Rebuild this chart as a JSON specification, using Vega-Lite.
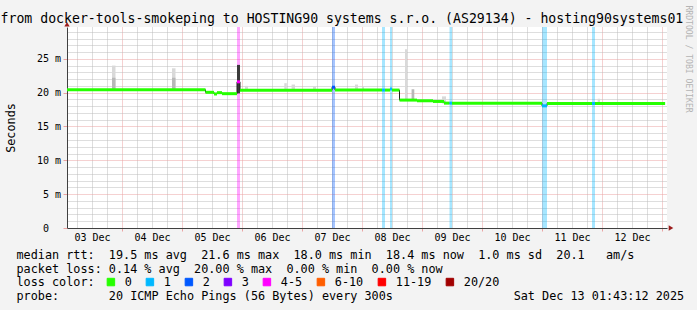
{
  "$schema": "https://vega.github.io/schema/vega-lite/v6.json",
  "width": 600,
  "height": 201,
  "autosize": {"type": "none"},
  "padding": {"left": 67, "top": 27, "right": 30, "bottom": 82},
  "background": "#f3f3f3",
  "config": {"view": {"stroke": null, "fill": "#ffffff"}, "font": "DejaVu Sans Mono"},
  "title": {
    "text": "from docker-tools-smokeping to HOSTING90 systems s.r.o. (AS29134) - hosting90systems01",
    "anchor": "start", "frame": "group", "dx": -66.5, "offset": -31,
    "baseline": "alphabetic", "font": "DejaVu Sans Mono", "fontSize": 13.2,
    "fontWeight": "normal", "color": "#000000"
  },
  "datasets": {
    "segs": [
      {"t0": "2025-12-03T02:00:00Z", "t1": "2025-12-05T09:24:00Z", "rtt": 20.43, "loss": "0"},
      {"t0": "2025-12-05T09:24:00Z", "t1": "2025-12-05T12:48:00Z", "rtt": 20.05, "loss": "0"},
      {"t0": "2025-12-05T12:48:00Z", "t1": "2025-12-05T14:00:00Z", "rtt": 19.8, "loss": "0"},
      {"t0": "2025-12-05T14:00:00Z", "t1": "2025-12-05T16:00:00Z", "rtt": 20.0, "loss": "0"},
      {"t0": "2025-12-05T16:00:00Z", "t1": "2025-12-05T22:00:00Z", "rtt": 19.85, "loss": "0"},
      {"t0": "2025-12-05T22:00:00Z", "t1": "2025-12-05T23:12:00Z", "rtt": 21.6, "loss": "4-5"},
      {"t0": "2025-12-05T23:12:00Z", "t1": "2025-12-07T12:00:00Z", "rtt": 20.35, "loss": "0"},
      {"t0": "2025-12-07T12:00:00Z", "t1": "2025-12-07T13:12:00Z", "rtt": 20.8, "loss": "2"},
      {"t0": "2025-12-07T13:12:00Z", "t1": "2025-12-08T08:00:00Z", "rtt": 20.38, "loss": "0"},
      {"t0": "2025-12-08T08:00:00Z", "t1": "2025-12-08T09:12:00Z", "rtt": 20.38, "loss": "1"},
      {"t0": "2025-12-08T09:12:00Z", "t1": "2025-12-08T11:12:00Z", "rtt": 20.38, "loss": "0"},
      {"t0": "2025-12-08T11:12:00Z", "t1": "2025-12-08T12:00:00Z", "rtt": 20.55, "loss": "1"},
      {"t0": "2025-12-08T12:00:00Z", "t1": "2025-12-08T15:00:00Z", "rtt": 20.38, "loss": "0"},
      {"t0": "2025-12-08T15:00:00Z", "t1": "2025-12-08T22:00:00Z", "rtt": 18.9, "loss": "0"},
      {"t0": "2025-12-08T22:00:00Z", "t1": "2025-12-09T04:24:00Z", "rtt": 18.8, "loss": "0"},
      {"t0": "2025-12-09T04:24:00Z", "t1": "2025-12-09T08:48:00Z", "rtt": 18.7, "loss": "0"},
      {"t0": "2025-12-09T08:48:00Z", "t1": "2025-12-09T11:00:00Z", "rtt": 18.45, "loss": "0"},
      {"t0": "2025-12-09T11:00:00Z", "t1": "2025-12-09T12:00:00Z", "rtt": 18.45, "loss": "1"},
      {"t0": "2025-12-09T12:00:00Z", "t1": "2025-12-11T00:00:00Z", "rtt": 18.42, "loss": "0"},
      {"t0": "2025-12-11T00:00:00Z", "t1": "2025-12-11T02:00:00Z", "rtt": 18.05, "loss": "1"},
      {"t0": "2025-12-11T02:00:00Z", "t1": "2025-12-11T20:00:00Z", "rtt": 18.4, "loss": "0"},
      {"t0": "2025-12-11T20:00:00Z", "t1": "2025-12-11T21:12:00Z", "rtt": 18.4, "loss": "1"},
      {"t0": "2025-12-11T21:12:00Z", "t1": "2025-12-13T01:15:00Z", "rtt": 18.4, "loss": "0"}
    ],
    "smoke": [
      {"t0": "2025-12-03T20:00:00Z", "t1": "2025-12-03T21:24:00Z", "lo": 20.4, "hi": 24.0, "density": "sparse"},
      {"t0": "2025-12-03T20:00:00Z", "t1": "2025-12-03T21:24:00Z", "lo": 20.4, "hi": 22.2, "density": "medium"},
      {"t0": "2025-12-04T20:00:00Z", "t1": "2025-12-04T21:24:00Z", "lo": 20.4, "hi": 23.6, "density": "sparse"},
      {"t0": "2025-12-04T20:00:00Z", "t1": "2025-12-04T21:24:00Z", "lo": 20.4, "hi": 22.2, "density": "medium"},
      {"t0": "2025-12-05T22:00:00Z", "t1": "2025-12-05T23:12:00Z", "lo": 19.9, "hi": 24.1, "density": "dense"},
      {"t0": "2025-12-06T01:12:00Z", "t1": "2025-12-06T02:24:00Z", "lo": 20.3, "hi": 21.0, "density": "sparse"},
      {"t0": "2025-12-06T16:55:00Z", "t1": "2025-12-06T17:55:00Z", "lo": 20.3, "hi": 21.4, "density": "sparse"},
      {"t0": "2025-12-06T19:50:00Z", "t1": "2025-12-06T21:12:00Z", "lo": 20.3, "hi": 21.2, "density": "sparse"},
      {"t0": "2025-12-07T04:24:00Z", "t1": "2025-12-07T05:36:00Z", "lo": 20.3, "hi": 20.9, "density": "sparse"},
      {"t0": "2025-12-07T21:12:00Z", "t1": "2025-12-07T22:24:00Z", "lo": 20.3, "hi": 21.2, "density": "sparse"},
      {"t0": "2025-12-08T00:00:00Z", "t1": "2025-12-08T00:48:00Z", "lo": 20.3, "hi": 20.9, "density": "sparse"},
      {"t0": "2025-12-08T17:12:00Z", "t1": "2025-12-08T18:00:00Z", "lo": 18.9, "hi": 26.4, "density": "sparse"},
      {"t0": "2025-12-08T19:50:00Z", "t1": "2025-12-08T20:55:00Z", "lo": 18.9, "hi": 20.5, "density": "medium"},
      {"t0": "2025-12-09T08:00:00Z", "t1": "2025-12-09T09:36:00Z", "lo": 18.4, "hi": 19.45, "density": "sparse"},
      {"t0": "2025-12-11T22:17:00Z", "t1": "2025-12-11T23:12:00Z", "lo": 18.4, "hi": 19.1, "density": "sparse"}
    ]
  },
  "resolve": {"axis": {"y": "independent", "x": "independent"}},
  "layer": [
    {
      "data": {"name": "segs"},
      "transform": [{"filter": "datum.loss != '0'"}],
      "mark": {"type": "rect", "opacity": 0.35},
      "encoding": {
        "x": {
          "field": "t0", "type": "temporal",
          "scale": {"type": "utc", "nice": false, "domain": [{"year": 2025, "month": 12, "date": 3, "hours": 2, "utc": true}, {"year": 2025, "month": 12, "date": 13, "hours": 2, "utc": true}]},
          "axis": {
            "orient": "bottom",
            "tickCount": 40,
            "grid": true,
            "gridColor": {"condition": {"test": "utchours(datum.value) == 0", "value": "#eba3a3"}, "value": "#bcbcbc"},
            "gridDash": [1, 1],
            "domain": true, "domainColor": "#404040",
            "ticks": true, "tickSize": 3,
            "tickColor": {"condition": {"test": "utchours(datum.value) == 0", "value": "#eba3a3"}, "value": "transparent"},
            "labelExpr": "utchours(datum.value) == 12 ? utcFormat(datum.value, '%d %b') : ''",
            "labelFont": "DejaVu Sans Mono", "labelFontSize": 10, "labelColor": "#000000",
            "labelBaseline": "alphabetic", "labelPadding": 9,
            "labelOverlap": false, "labelFlush": false, "labelBound": false,
            "title": [
              "median rtt:\u00a0\u00a019.5 ms avg\u00a0\u00a021.6 ms max\u00a0\u00a018.0 ms min\u00a0\u00a018.4 ms now\u00a0\u00a01.0 ms sd\u00a0\u00a020.1\u00a0\u00a0\u00a0am/s",
              "packet loss: 0.14 % avg\u00a0\u00a020.00 % max\u00a0\u00a00.00 % min\u00a0\u00a00.00 % now"
            ],
            "titleFont": "DejaVu Sans Mono", "titleFontSize": 11.8, "titleFontWeight": "normal",
            "titleColor": "#000000", "titleAlign": "left", "titleBaseline": "alphabetic",
            "titleAngle": 0, "titleX": -51, "titleY": 30, "titleLineHeight": 14
          }
        },
        "x2": {"field": "t1"},
        "y": {
          "datum": 0, "type": "quantitative",
          "scale": {"domain": [0, 29.7], "nice": false, "zero": false},
          "axis": {
            "values": [0, 1, 2, 3, 4, 5, 6, 7, 8, 9, 10, 11, 12, 13, 14, 15, 16, 17, 18, 19, 20, 21, 22, 23, 24, 25, 26, 27, 28, 29],
            "grid": true,
            "gridColor": {"condition": {"test": "datum.value % 5 == 0", "value": "#eba3a3"}, "value": "#bcbcbc"},
            "gridDash": [1, 1],
            "domain": true, "domainColor": "#404040",
            "ticks": true, "tickSize": 4,
            "tickColor": {"condition": {"test": "datum.value % 5 == 0", "value": "#eba3a3"}, "value": "transparent"},
            "labelExpr": "datum.value % 5 == 0 ? (datum.value == 0 ? '0' : datum.value + ' m') : ''",
            "labelFont": "DejaVu Sans Mono", "labelFontSize": 10, "labelColor": "#000000",
            "labelPadding": {"condition": {"test": "datum.value == 0", "value": 14.5}, "value": 2.5},
            "labelOverlap": false, "labelBound": false, "labelFlush": false,
            "title": "Seconds", "titleFont": "DejaVu Sans Mono", "titleFontSize": 11.8,
            "titleFontWeight": "normal", "titleColor": "#000000", "titleAngle": -90,
            "titleAlign": "center", "titleBaseline": "alphabetic", "titleX": -53, "titleY": 100.5
          }
        },
        "y2": {"datum": 29.7},
        "color": {
          "field": "loss", "type": "nominal",
          "scale": {"domain": ["0", "1", "2", "3", "4-5", "6-10", "11-19", "20/20"], "range": ["#26ff00", "#00b8ff", "#0059ff", "#7e00ff", "#ff00ff", "#ff5e00", "#ff0000", "#a10000"]},
          "legend": {
            "orient": "none", "legendX": 38, "legendY": 249, "direction": "horizontal",
            "title": null,
            "labelFont": "DejaVu Sans Mono", "labelFontSize": 11.8, "labelColor": "#000000", "labelOffset": 8,
            "symbolType": "square", "symbolSize": 56, "symbolStrokeColor": "#000000", "symbolStrokeWidth": 1,
            "symbolOpacity": 1,
            "columnPadding": 12, "padding": 0, "offset": 0,
            "encode": {
              "symbols": {
                "update": {
                  "fill": {"scale": "color", "field": "value"},
                  "stroke": {"value": "#000000"},
                  "strokeWidth": {"value": 1},
                  "opacity": {"value": 1},
                  "fillOpacity": {"value": 1}
                }
              }
            }
          }
        }
      }
    },
    {
      "data": {"name": "smoke"},
      "mark": {"type": "rect"},
      "encoding": {
        "x": {"field": "t0", "type": "temporal", "scale": {"type": "utc", "nice": false, "domain": [{"year": 2025, "month": 12, "date": 3, "hours": 2, "utc": true}, {"year": 2025, "month": 12, "date": 13, "hours": 2, "utc": true}]}, "axis": null},
        "x2": {"field": "t1"},
        "y": {"field": "lo", "type": "quantitative", "scale": {"domain": [0, 29.7], "nice": false, "zero": false}, "axis": null},
        "y2": {"field": "hi"},
        "fill": {
          "field": "density", "type": "nominal",
          "scale": {"domain": ["sparse", "medium", "dense"], "range": ["#d9d9d9", "#b8b8b8", "#3a3a3a"]},
          "legend": null
        }
      }
    },
    {
      "data": {"name": "segs"},
      "mark": {"type": "line", "interpolate": "step-after", "color": "#202020", "strokeWidth": 1},
      "encoding": {
        "x": {
          "field": "t0", "type": "temporal",
          "scale": {"type": "utc", "nice": false, "domain": [{"year": 2025, "month": 12, "date": 3, "hours": 2, "utc": true}, {"year": 2025, "month": 12, "date": 13, "hours": 2, "utc": true}]},
          "axis": {
            "orient": "top", "domain": false, "ticks": false, "labels": false, "grid": false,
            "title": [
              "loss color:",
              "probe:\u00a0\u00a0\u00a0\u00a0\u00a0\u00a0\u00a020 ICMP Echo Pings (56 Bytes) every 300s\u00a0\u00a0\u00a0\u00a0\u00a0\u00a0\u00a0\u00a0\u00a0\u00a0\u00a0\u00a0\u00a0\u00a0\u00a0\u00a0\u00a0Sat Dec 13 01:43:12 2025"
            ],
            "titleFont": "DejaVu Sans Mono", "titleFontSize": 11.8, "titleFontWeight": "normal",
            "titleColor": "#000000", "titleAlign": "left", "titleBaseline": "alphabetic",
            "titleAngle": 0, "titleX": -51, "titleY": 258.5, "titleLineHeight": 14
          }
        },
        "y": {
          "field": "rtt", "type": "quantitative", "scale": {"domain": [0, 29.7], "nice": false, "zero": false},
          "axis": {
            "orient": "right", "domain": false, "ticks": false, "labels": false, "grid": false,
            "title": "RRDTOOL / TOBI OETIKER", "titleAngle": 90, "titleX": 18, "titleY": -22,
            "titleAlign": "left", "titleBaseline": "alphabetic", "titleFont": "DejaVu Sans Mono",
            "titleFontSize": 8.1, "titleFontWeight": "normal", "titleColor": "#b4b4b4"
          }
        }
      }
    },
    {
      "data": {"name": "segs"},
      "mark": {"type": "rule", "strokeWidth": 3, "strokeCap": "butt"},
      "encoding": {
        "x": {"field": "t0", "type": "temporal", "scale": {"type": "utc", "nice": false, "domain": [{"year": 2025, "month": 12, "date": 3, "hours": 2, "utc": true}, {"year": 2025, "month": 12, "date": 13, "hours": 2, "utc": true}]}, "axis": null},
        "x2": {"field": "t1"},
        "y": {"field": "rtt", "type": "quantitative", "scale": {"domain": [0, 29.7], "nice": false, "zero": false}, "axis": null},
        "color": {"field": "loss", "type": "nominal", "scale": {"domain": ["0", "1", "2", "3", "4-5", "6-10", "11-19", "20/20"], "range": ["#26ff00", "#00b8ff", "#0059ff", "#7e00ff", "#ff00ff", "#ff5e00", "#ff0000", "#a10000"]}}
      }
    },
    {
      "data": {"values": [{}]},
      "mark": {"type": "point", "shape": "triangle-up", "filled": true, "size": 28, "color": "#9b1c1c", "opacity": 1},
      "encoding": {
        "x": {"datum": 1764727200000, "type": "temporal", "scale": {"type": "utc", "nice": false, "domain": [{"year": 2025, "month": 12, "date": 3, "hours": 2, "utc": true}, {"year": 2025, "month": 12, "date": 13, "hours": 2, "utc": true}]}, "axis": null},
        "y": {"datum": 30.1, "type": "quantitative", "scale": {"domain": [0, 29.7], "nice": false, "zero": false}, "axis": null}
      }
    },
    {
      "data": {"values": [{}]},
      "mark": {"type": "point", "shape": "triangle-right", "filled": true, "size": 28, "color": "#9b1c1c", "opacity": 1},
      "encoding": {
        "x": {"datum": 1765596960000, "type": "temporal", "scale": {"type": "utc", "nice": false, "domain": [{"year": 2025, "month": 12, "date": 3, "hours": 2, "utc": true}, {"year": 2025, "month": 12, "date": 13, "hours": 2, "utc": true}]}, "axis": null},
        "y": {"datum": 0, "type": "quantitative", "scale": {"domain": [0, 29.7], "nice": false, "zero": false}, "axis": null}
      }
    }
  ]
}
